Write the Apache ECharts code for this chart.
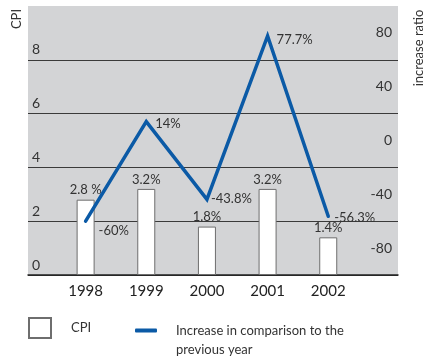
<!DOCTYPE html>
<html>
<head>
<meta charset="utf-8">
<script src="https://cdn.jsdelivr.net/npm/echarts@6/dist/echarts.min.js"></script>
<style>
  html, body { margin: 0; padding: 0; background: #ffffff; }
  #chart { width: 424px; height: 363px; }
</style>
</head>
<body>
<div id="chart"></div>
<script>
// Years shown along the bottom axis
const years = [1998, 1999, 2000, 2001, 2002];
// Consumer price index (left axis)
const cpi = [2.8, 3.2, 1.8, 3.2, 1.4];
const cpiLabelText = ['2.8 %', '3.2%', '1.8%', '3.2%', '1.4%'];
// Change against the previous year, in percent (right axis)
const increase = [-60, 14, -43.8, 77.7, -56.3];
// Tick labels
const cpiTicks = [0, 2, 4, 6, 8];
const ratioTicks = [-80, -40, 0, 40, 80];

const FONT = 'Lato';
const TEXT = '#333333';
const BLUE = '#0b5aa6';
const LINE_NAME = 'Increase in comparison to the previous year';

// Nudges for the percentage labels next to each line point
const lineLabelOffsets = [[12, 10], [8, 2], [3, -1], [8, 4], [5, 2]];

const chart = echarts.init(document.getElementById('chart'), null, { renderer: 'canvas' });

chart.setOption({
  animation: false,
  textStyle: { fontFamily: FONT },
  grid: {
    left: 28, right: 26, top: 6, bottom: 88,
    show: true, backgroundColor: '#d3d4d6', borderWidth: 0
  },
  xAxis: {
    type: 'value',
    min: 1997.05,
    max: 2003.15,
    splitLine: { show: false },
    axisTick: { show: false },
    axisLine: { show: true, lineStyle: { color: '#222222', width: 1.5 } },
    axisLabel: {
      customValues: years,
      formatter: v => String(v),
      fontFamily: FONT, fontSize: 15, color: '#222222', margin: 9
    }
  },
  yAxis: [
    {
      type: 'value', min: 0, max: 10, interval: 2,
      axisLine: { show: false }, axisTick: { show: false },
      splitLine: { show: true, showMaxLine: false, lineStyle: { color: '#3a3a3a', width: 1 } },
      axisLabel: {
        inside: true, customValues: cpiTicks, margin: 4,
        verticalAlign: 'bottom', padding: [0, 0, 3, 0],
        fontFamily: FONT, fontSize: 14, color: TEXT
      }
    },
    {
      type: 'value', min: -100, max: 100, interval: 20, position: 'right',
      axisLine: { show: false }, axisTick: { show: false },
      splitLine: { show: false },
      axisLabel: {
        inside: true, customValues: ratioTicks, margin: 6,
        fontFamily: FONT, fontSize: 14, color: TEXT
      }
    }
  ],
  legend: [
    {
      data: [{ name: 'CPI', icon: 'rect' }], left: 28, top: 317, padding: 0,
      itemWidth: 22, itemHeight: 20,
      textStyle: { fontFamily: FONT, fontSize: 13, color: TEXT, padding: [0, 0, 0, 15] }
    },
    {
      data: [{ name: LINE_NAME, icon: 'roundRect' }], left: 135, top: 324, padding: 0,
      itemWidth: 22, itemHeight: 4,
      itemStyle: { color: BLUE },
      formatter: () => 'Increase in comparison to the',
      textStyle: { fontFamily: FONT, fontSize: 13, color: TEXT, padding: [0, 0, 0, 14] }
    }
  ],
  graphic: [
    {
      type: 'text', x: 17, y: 19, rotation: Math.PI / 2,
      style: { text: 'CPI', fontFamily: FONT, fontSize: 13, fill: TEXT, align: 'center', verticalAlign: 'middle' }
    },
    {
      type: 'text', x: 419, y: 48, rotation: Math.PI / 2,
      style: { text: 'increase ratio', fontFamily: FONT, fontSize: 13, fill: TEXT, align: 'center', verticalAlign: 'middle' }
    },
    {
      type: 'text', x: 176, y: 350,
      style: { text: 'previous year', fontFamily: FONT, fontSize: 13, fill: TEXT, align: 'left', verticalAlign: 'middle' }
    }
  ],
  series: [
    {
      name: 'CPI',
      type: 'bar',
      xAxisIndex: 0, yAxisIndex: 0,
      barWidth: 18,
      data: years.map((y, i) => [y, cpi[i]]),
      itemStyle: { color: '#ffffff', borderColor: '#6e6e6e', borderWidth: 1 },
      label: {
        show: true, position: 'top', distance: 3,
        formatter: p => cpiLabelText[p.dataIndex],
        fontFamily: FONT, fontSize: 13, color: TEXT
      },
      z: 2
    },
    {
      name: LINE_NAME,
      type: 'line',
      xAxisIndex: 0, yAxisIndex: 1,
      symbol: 'circle',
      symbolSize: 2,
      showSymbol: true,
      data: years.map((y, i) => [y, increase[i]]),
      lineStyle: { color: BLUE, width: 3.5, cap: 'round', join: 'miter' },
      itemStyle: { color: BLUE },
      label: {
        show: true, position: 'right', distance: 0,
        formatter: p => p.value[1] + '%',
        fontFamily: FONT, fontSize: 13, color: TEXT
      },
      labelLayout: p => ({
        dx: lineLabelOffsets[p.dataIndex][0],
        dy: lineLabelOffsets[p.dataIndex][1],
        hideOverlap: false
      }),
      z: 3
    }
  ]
});
</script>
</body>
</html>
